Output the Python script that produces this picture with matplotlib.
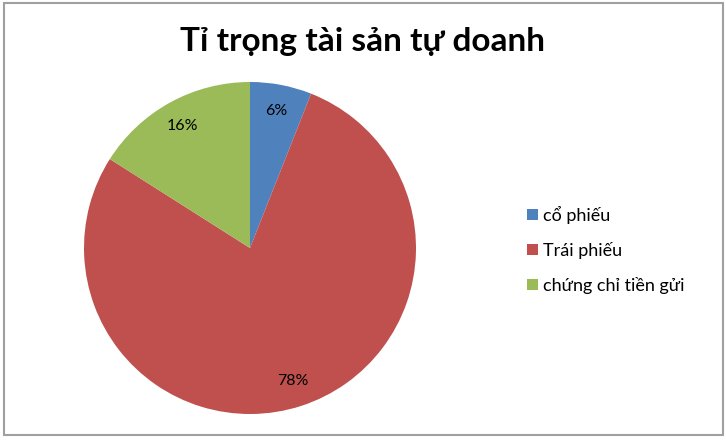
import numpy as np
import matplotlib
matplotlib.use("Agg")
import matplotlib.pyplot as plt
from matplotlib.patches import Rectangle

# Data
labels = ["cổ phiếu", "Trái phiếu", "chứng chỉ tiền gửi"]
shares = [6, 78, 16]
colors = ["#4F81BD", "#C0504D", "#9BBB59"]
title = "Tỉ trọng tài sản tự doanh"

FONT = ["Lato", "Open Sans", "DejaVu Sans"]
plt.rcParams["font.family"] = FONT

fig = plt.figure(figsize=(7.26, 4.40), dpi=100)
fig.patch.set_facecolor("white")

# chart border
fig.patches.append(Rectangle((3.5 / 726, 1 - 434.5 / 440), 719 / 726, 431 / 440,
                             transform=fig.transFigure, fill=False,
                             edgecolor="#A0A0A0", linewidth=1.5))

ax = fig.add_axes([84 / 726, 26 / 440, 332 / 726, 332 / 440])
wedges, texts, autotexts = ax.pie(
    shares,
    colors=colors,
    startangle=90,
    counterclock=False,
    autopct="%d%%",
    pctdistance=0.84,
    wedgeprops=dict(linewidth=0),
    textprops=dict(fontsize=11.5, color="black"),
)
ax.set_xlim(-1, 1)
ax.set_ylim(-1, 1)
ax.set_aspect("equal")

fig.text(0.5, 1 - 42 / 440, title, ha="center", va="center",
         fontsize=24, fontweight="bold", color="black")

ax.legend(wedges, labels, loc="center left",
          bbox_to_anchor=(511 / 726, 1 - 250 / 440),
          bbox_transform=fig.transFigure,
          frameon=False, fontsize=13, handlelength=0.6, handleheight=0.6,
          handletextpad=0.3, labelspacing=1.0)

fig.savefig("out.png", dpi=100)
plt.close(fig)
